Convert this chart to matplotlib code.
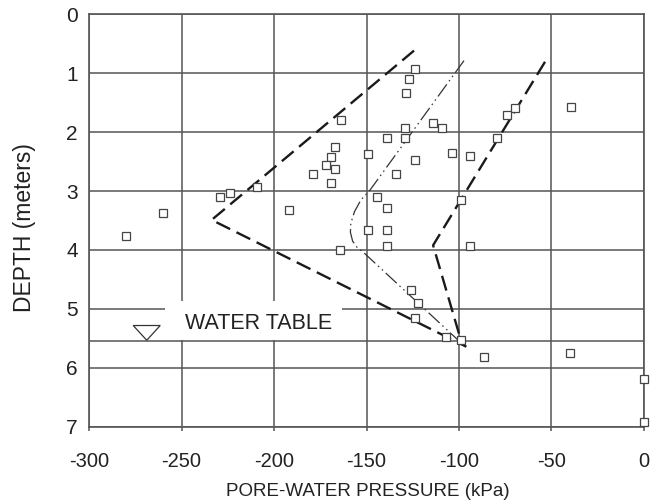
import matplotlib
matplotlib.use("Agg")
import matplotlib.pyplot as plt
from matplotlib.patches import Rectangle, Polygon

# -----------------------------------------
# Data
# -----------------------------------------
# measured pore-water pressures (kPa) and depths (m)
pressure_kpa = [-280, -260, -229, -224, -209, -192, -164, -167, -169, -172,
                -167, -179, -169, -149, -144.5, -149, -164.5, -124, -127, -128.5,
                -114, -109, -129, -139, -129, -124, -104, -94, -134, -139,
                -99, -79.5, -69.6, -74.3, -39.6, -139, -139, -94, -126, -122,
                -124, -107, -99, -86.5, -40, 0, 0]
depth_m = [3.77, 3.37, 3.11, 3.03, 2.94, 3.32, 1.79, 2.25, 2.42, 2.56,
           2.63, 2.71, 2.86, 2.37, 3.10, 3.66, 4.00, 0.94, 1.10, 1.34,
           1.84, 1.93, 1.94, 2.11, 2.11, 2.48, 2.35, 2.41, 2.71, 3.28,
           3.15, 2.11, 1.60, 1.72, 1.57, 3.66, 3.93, 3.94, 4.67, 4.90,
           5.16, 5.48, 5.53, 5.82, 5.75, 6.19, 6.92]

# envelope lines (dry / wet limits) and mean profile
left_env_x = [-124.3, -233.7, -96]
left_env_y = [0.62, 3.49, 5.64]
right_env_x = [-53.5, -114, -98.5]
right_env_y = [0.81, 3.92, 5.58]
mean_x = [-97.3, -148, -153, -156.5, -158.5, -158.7, -157.5, -155, -152, -98]
mean_y = [0.79, 2.98, 3.15, 3.35, 3.55, 3.70, 3.85, 3.96, 4.03, 5.6]

water_table_depth = 5.55

x_ticks = [-300, -250, -200, -150, -100, -50, 0]
y_ticks = [0, 1, 2, 3, 4, 5, 6, 7]

# -----------------------------------------
# Styling
# -----------------------------------------
plt.rcParams["font.family"] = ["Liberation Sans", "DejaVu Sans"]
plt.rcParams["axes.unicode_minus"] = False
grid_c = "#555555"
line_c = "#1a1a1a"
text_c = "#222222"

fig = plt.figure(figsize=(6.55, 5.04), dpi=100)
ax = fig.add_axes([0.1359, 0.1528, 0.8473, 0.8194])

ax.set_xlim(-300, 0)
ax.set_ylim(7, 0)
ax.set_xticks(x_ticks)
ax.set_yticks(y_ticks)
ax.set_axisbelow(True)
ax.grid(True, color=grid_c, linewidth=1.1)
for s in ax.spines.values():
    s.set_color(grid_c)
    s.set_linewidth(1.2)

ax.tick_params(axis="x", length=3, width=1.1, color=grid_c, pad=15,
               labelsize=14.5, labelcolor=text_c)
ax.tick_params(axis="y", length=0, pad=8, labelsize=15, labelcolor=text_c)

# water table line
ax.axhline(water_table_depth, color=grid_c, linewidth=1.1, zorder=0.6)

# white box behind the label, hides the grid
ax.add_patch(Rectangle((-259, 4.86), 96, 0.66, facecolor="white",
                       edgecolor="none", zorder=0.8))
ax.text(-208.5, 5.25, "WATER TABLE", fontsize=15.5, color=text_c,
        ha="center", va="center", zorder=3)
ax.add_patch(Polygon([(-276.1, 5.28), (-261.5, 5.28), (-268.8, 5.53)],
                     closed=True, fill=False, edgecolor="#333333",
                     linewidth=0.9, zorder=3))

# envelopes and mean profile
ax.plot(left_env_x, left_env_y, color=line_c, linewidth=1.7,
        dashes=(6.5, 3), zorder=2)
ax.plot(right_env_x, right_env_y, color=line_c, linewidth=1.7,
        dashes=(6.5, 3), zorder=2)
ax.plot(mean_x, mean_y, color="#333333", linewidth=0.9,
        dashes=(12, 3, 1.2, 3, 1.2, 3), zorder=2)

# measured points
ax.plot(pressure_kpa, depth_m, linestyle="none", marker="s", markersize=5.5,
        markerfacecolor="white", markeredgecolor="#444444",
        markeredgewidth=0.9, zorder=4, clip_on=False)

fig.text(0.5611, 0.024, "PORE-WATER PRESSURE (kPa)", fontsize=13.5,
         color=text_c, ha="center", va="center")
fig.text(0.038, 0.548, "DEPTH (meters)", fontsize=16.5,
         color=text_c, ha="center", va="center", rotation=90)

fig.savefig("out.png", dpi=100)
